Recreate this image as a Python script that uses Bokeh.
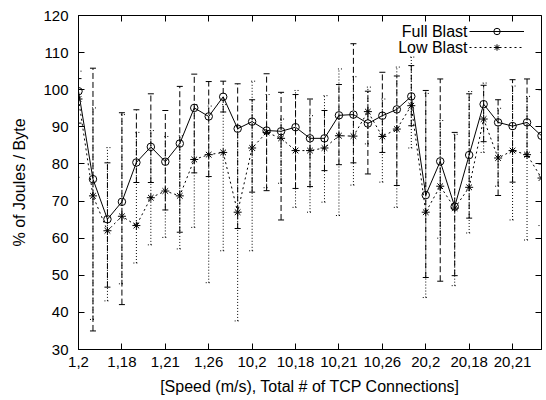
from bokeh.plotting import figure
from bokeh.models import (ColumnDataSource, Whisker, TeeHead, Range1d, FixedTicker,
                          LinearAxis, Legend, LegendItem, Label, CustomLabelingPolicy)
from bokeh.embed import file_html
from bokeh.resources import INLINE

# ---- data -------------------------------------------------------------
x_idx = list(range(33))
tick_idx = [0, 3, 6, 9, 12, 15, 18, 21, 24, 27, 30]
tick_labels = ["1,2", "1,18", "1,21", "1,26", "10,2", "10,18", "10,21",
               "10,26", "20,2", "20,18", "20,21"]
series_names = ["Full Blast", "Low Blast"]

full_blast = [99.6, 75.9, 65.1, 69.8, 80.4, 84.6, 80.6, 85.5, 95.1, 92.8, 98.1,
              89.5, 91.4, 89.0, 88.8, 89.9, 86.9, 86.9, 93.1, 93.3, 90.9, 93.0,
              94.7, 98.2, 71.6, 80.7, 68.5, 82.4, 96.1, 91.2, 90.2, 91.2, 87.6]
low_blast = [97.5, 71.4, 62.0, 65.9, 63.4, 70.9, 72.7, 71.4, 81.2, 82.5, 83.1,
             67.0, 84.3, 88.5, 86.9, 83.6, 83.6, 84.3, 87.6, 87.5, 94.1, 87.4,
             89.4, 95.7, 67.0, 74.0, 68.1, 73.7, 92.1, 81.6, 83.6, 82.5, 76.2]

full_low = [91.0, 35.0, 46.8, 42.1, 75.0, 75.0, 67.6, 61.6, 77.6, 76.6, 94.0,
            62.6, 72.4, 72.8, 64.9, 73.4, 73.9, 78.2, 79.8, 80.3, 77.3, 83.1,
            74.2, 90.3, 49.4, 48.4, 49.9, 65.4, 86.0, 71.5, 75.1, 82.0, 80.0]
full_high = [103.0, 105.8, 80.3, 93.8, 94.6, 98.9, 94.4, 100.9, 104.2, 102.2, 102.3,
             101.6, 97.3, 104.3, 99.3, 98.7, 97.5, 94.4, 101.4, 112.4, 99.6, 104.7,
             103.7, 106.5, 99.8, 102.9, 88.5, 98.9, 101.2, 97.3, 102.7, 102.9, 100.0]
low_low = [76.4, 38.1, 43.1, 47.7, 53.3, 58.2, 60.2, 57.1, 62.9, 48.0, 56.6,
           37.7, 56.6, 73.6, 74.8, 68.3, 67.0, 69.7, 66.1, 74.3, 85.4, 75.1,
           68.3, 84.3, 44.0, 60.0, 47.2, 61.4, 83.1, 74.0, 64.9, 59.5, 63.4]
low_high = [105.0, 95.1, 84.4, 93.3, 88.5, 89.0, 87.4, 87.6, 96.0, 95.6, 96.0,
            90.0, 102.3, 98.7, 92.1, 99.8, 93.0, 98.4, 105.6, 103.5, 100.7, 97.5,
            106.1, 108.8, 99.0, 91.7, 88.0, 99.5, 101.8, 95.0, 101.0, 98.2, 83.1]

y_ticks = [30, 40, 50, 60, 70, 80, 90, 100, 110, 120]

FONT = "Liberation Sans"

src = ColumnDataSource(dict(x=x_idx, full=full_blast, low=low_blast,
                            f_lo=full_low, f_hi=full_high,
                            l_lo=low_low, l_hi=low_high))

p = figure(width=546, height=400, output_backend="svg", toolbar_location=None,
           x_range=Range1d(0, 32), y_range=Range1d(30, 120),
           min_border_left=78, min_border_right=2, min_border_top=15,
           min_border_bottom=51)
p.grid.visible = False
p.outline_line_color = "black"
p.outline_line_width = 1
p.background_fill_color = "white"
p.border_fill_color = "white"

# bottom axis
xa = p.xaxis[0]
xa.ticker = FixedTicker(ticks=tick_idx)
xa.major_label_overrides = {t: lab for t, lab in zip(tick_idx, tick_labels)}
xa.axis_label = "[Speed (m/s), Total # of TCP Connections]"
# left axis
ya = p.yaxis[0]
ya.ticker = FixedTicker(ticks=y_ticks)
ya.axis_label = "% of Joules / Byte"

for ax in (xa, ya):
    ax.major_tick_in = 6
    ax.major_tick_out = 0
    ax.minor_tick_line_color = None
    ax.axis_line_color = "black"
    ax.major_tick_line_color = "black"
    ax.major_label_text_font = FONT
    ax.major_label_text_font_size = "15px"
    ax.major_label_text_color = "black"
    ax.axis_label_text_font = FONT
    ax.axis_label_text_font_size = "16px"
    ax.axis_label_text_font_style = "normal"
    ax.axis_label_text_color = "black"
xa.major_label_standoff = 7
xa.axis_label_standoff = 8
ya.major_label_standoff = 10
ya.axis_label_standoff = 12

# mirror ticks (top / right), without labels
def mirror_axis(ticks):
    return LinearAxis(ticker=FixedTicker(ticks=ticks),
                      major_label_text_font_size="1px", major_label_standoff=0,
                      major_label_policy=CustomLabelingPolicy(code="""
                          for (const i of Array.from(indices)) { indices.unset(i) }
                          return indices
                      """),
                      major_tick_in=6, major_tick_out=0,
                      axis_line_color=None, minor_tick_line_color=None,
                      major_tick_line_color="black")

p.add_layout(mirror_axis(tick_idx), "above")
p.add_layout(mirror_axis(y_ticks), "right")

# error bars
wf = Whisker(source=src, base="x", lower="f_lo", upper="f_hi",
             line_color="black", line_width=1, line_dash="6 3",
             upper_head=TeeHead(size=6, line_color="black", line_width=1),
             lower_head=TeeHead(size=6, line_color="black", line_width=1))
wl = Whisker(source=src, base="x", lower="l_lo", upper="l_hi",
             line_color="black", line_width=1, line_dash="1 2",
             upper_head=TeeHead(size=6, line_color="black", line_width=1, line_dash="1 2"),
             lower_head=TeeHead(size=6, line_color="black", line_width=1, line_dash="1 2"))
p.add_layout(wf)
p.add_layout(wl)

full_line = p.line("x", "full", source=src, line_color="black", line_width=1)
full_pts = p.scatter("x", "full", source=src, marker="circle", size=7.5,
                     fill_color=None, line_color="black", line_width=1)
low_line = p.line("x", "low", source=src, line_color="black", line_width=1,
                  line_dash="2 3")
low_pts = p.scatter("x", "low", source=src, marker="asterisk", size=8,
                    line_color="black", line_width=1)

# gnuplot-style key: sample glyphs from a Legend, right-aligned texts before them
legend = Legend(items=[LegendItem(label="", renderers=[full_line, full_pts]),
                       LegendItem(label="", renderers=[low_line, low_pts])],
                location=(391, 294), glyph_width=55, glyph_height=16,
                label_width=0, label_height=16, label_standoff=0, spacing=0,
                padding=0, margin=0, border_line_color=None,
                background_fill_alpha=0, label_text_font=FONT,
                label_text_font_size="16px")
p.add_layout(legend)

for name, ys in zip(series_names, (318, 302)):
    p.add_layout(Label(x=389, y=ys, x_units="screen", y_units="screen", text=name,
                       text_align="right", text_baseline="middle", text_font=FONT,
                       text_font_size="16px", text_color="black"))

open("out.html", "w").write(file_html(p, INLINE))
